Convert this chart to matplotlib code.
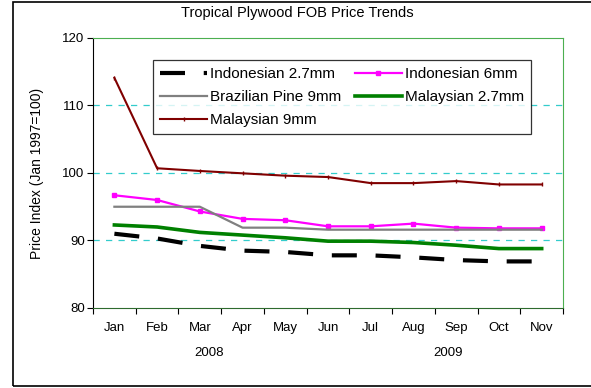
import numpy as np
import matplotlib.pyplot as plt
from matplotlib.patches import Rectangle

plt.rcParams['font.family'] = ['Liberation Sans', 'DejaVu Sans']

# Data
months = ['Jan', 'Feb', 'Mar', 'Apr', 'May', 'Jun', 'Jul', 'Aug', 'Sep', 'Oct', 'Nov']
indonesian_27 = [91.0, 90.3, 89.2, 88.5, 88.3, 87.8, 87.8, 87.5, 87.1, 86.9, 86.9]
indonesian_6 = [96.7, 96.0, 94.3, 93.2, 93.0, 92.1, 92.1, 92.5, 91.9, 91.8, 91.8]
brazilian_9 = [95.0, 95.0, 95.0, 91.9, 91.9, 91.6, 91.6, 91.6, 91.6, 91.6, 91.6]
malaysian_27 = [92.3, 92.0, 91.2, 90.8, 90.4, 89.9, 89.9, 89.7, 89.3, 88.8, 88.8]
malaysian_9 = [114.1, 100.7, 100.3, 99.95, 99.6, 99.4, 98.5, 98.5, 98.8, 98.3, 98.3]
years = ['2008', '2009']

x = np.arange(len(months))

fig = plt.figure(figsize=(5.91, 3.88), dpi=100)
ax = fig.add_axes([0.1574, 0.2062, 0.7953, 0.6959])

# outer chart frame
fig.patches.append(Rectangle((13 / 591, 2 / 388), 1.0, 384 / 388, transform=fig.transFigure,
                             fill=False, edgecolor='black', linewidth=1.2, clip_on=False))

# grid
for v in [90, 100, 110]:
    ax.axhline(v, color='#33cccc', linewidth=0.9, linestyle=(0, (5, 5)), zorder=1)

l1, = ax.plot(x, indonesian_27, color='black', linewidth=3.0, linestyle=(0, (6, 4.5)),
              label='Indonesian 2.7mm', zorder=3)
l2, = ax.plot(x, indonesian_6, color='#ff00ff', linewidth=1.6, marker='s', markersize=3.5,
              label='Indonesian 6mm', zorder=3)
l3, = ax.plot(x, brazilian_9, color='#808080', linewidth=1.6, label='Brazilian Pine 9mm', zorder=3)
l4, = ax.plot(x, malaysian_27, color='#008000', linewidth=2.6, label='Malaysian 2.7mm', zorder=3)
l5, = ax.plot(x, malaysian_9, color='#800000', linewidth=1.5, marker='|', markersize=2.5,
              label='Malaysian 9mm', zorder=3)

ax.set_xlim(-0.5, len(months) - 0.5)
ax.set_ylim(80, 120)
ax.set_yticks([80, 90, 100, 110, 120])
ax.tick_params(axis='y', direction='out', length=4, labelsize=9.5, pad=2)

ax.set_xticks(np.arange(-0.5, len(months), 1))
ax.set_xticklabels([])
ax.set_xticks(x, minor=True)
ax.set_xticklabels(months, minor=True)
ax.tick_params(axis='x', which='major', direction='out', length=4)
ax.tick_params(axis='x', which='minor', length=0, labelsize=9.5, pad=10)

for s in ['top', 'right']:
    ax.spines[s].set_color('#4caf50')
ax.spines['bottom'].set_color('#2e6b2e')
ax.spines['left'].set_color('black')

ax.set_ylabel('Price Index (Jan 1997=100)', fontsize=10)
ax.yaxis.set_label_coords(-0.105, 0.5)

fig.text(297 / 591, 1 - 13 / 388, 'Tropical Plywood FOB Price Trends', ha='center', va='center',
         fontsize=10.5)
fig.text(209 / 591, 1 - 353 / 388, years[0], ha='center', va='center', fontsize=9.5)
fig.text(448 / 591, 1 - 353 / 388, years[1], ha='center', va='center', fontsize=9.5)

# column-major fill so rows read: Indo 2.7 | Indo 6, Brazilian | Malay 2.7, Malay 9
leg = ax.legend([l1, l3, l5, l2, l4],
                ['Indonesian 2.7mm', 'Brazilian Pine 9mm', 'Malaysian 9mm',
                 'Indonesian 6mm', 'Malaysian 2.7mm'],
                ncol=2, loc='upper left', bbox_to_anchor=(0.1277, 0.9185), borderaxespad=0,
                fontsize=11, frameon=True, fancybox=False, edgecolor='black',
                handlelength=3.1, handletextpad=0.2, columnspacing=0.85,
                labelspacing=0.6, borderpad=0.45)
leg.get_frame().set_linewidth(0.9)

fig.savefig('out.png', dpi=100)
